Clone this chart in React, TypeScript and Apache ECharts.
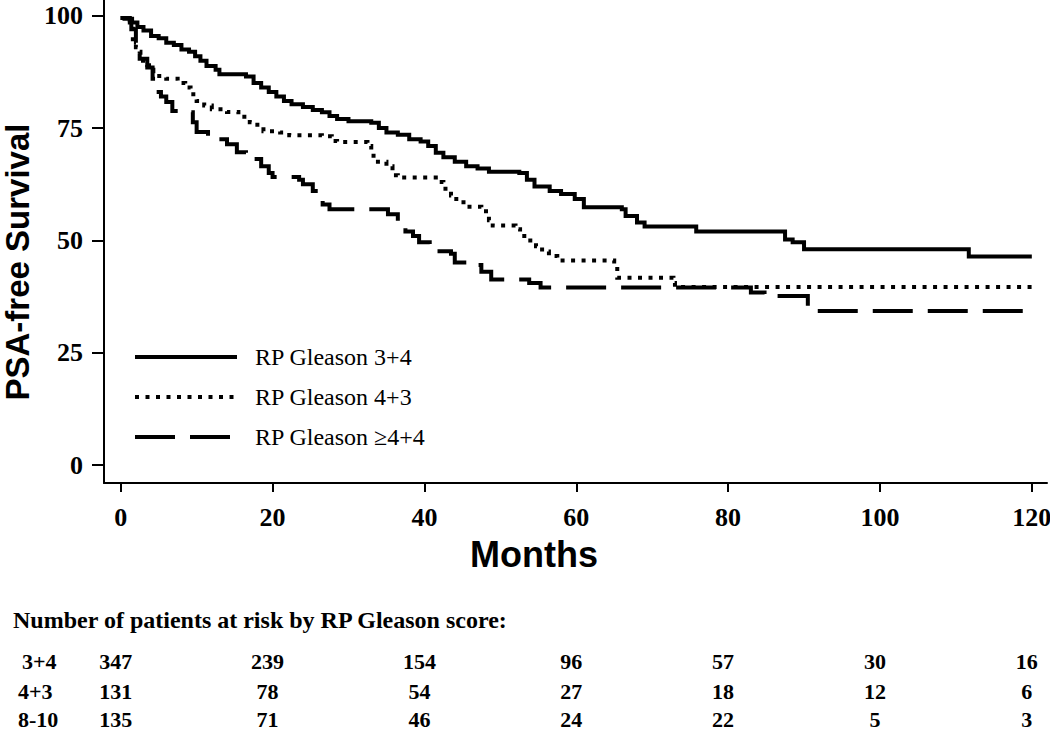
import React, { useEffect, useRef } from "react";
import * as echarts from "echarts";

// ---- Data ----
const monthTicks = [0, 20, 40, 60, 80, 100, 120];
const survivalTicks = [0, 25, 50, 75, 100];

const seriesNames = ["RP Gleason 3+4", "RP Gleason 4+3", "RP Gleason \u22654+4"];

const gleason34: [number, number][] = [
  [0, 99.5], [0.5, 99.3], [1.5, 98.5], [2.2, 97.5], [3, 96.7], [4, 95.5], [5, 95], [6, 94], [7, 93.5],
  [8, 92.5], [9, 92], [9.8, 91], [10.5, 90], [11.3, 88.8], [12.5, 88], [13, 87], [16.5, 86.5],
  [17.5, 85], [18.5, 84], [19.5, 83], [20.5, 82], [21.5, 81], [22.5, 80.3], [24, 79.7], [25.3, 79],
  [26.5, 78.5], [27.5, 77.7], [28.5, 77], [30, 76.5], [33, 76.2], [34, 75], [35, 74], [36.5, 73.5],
  [38, 72.5], [39.5, 72], [40.5, 71], [41.5, 69.5], [42.5, 68.5], [44, 67.5], [45.5, 66.5], [47, 66],
  [48.5, 65.3], [52.5, 65], [53.5, 63.5], [54.5, 62], [56.5, 61], [58, 60.3], [59.8, 59.2], [61, 57.4],
  [66, 56.9], [66.5, 55.4], [68, 54], [69, 53.1], [75.8, 52], [87.5, 50.2], [88.5, 49.6], [90, 48],
  [111.7, 46.4], [120, 46.4],
];

const gleason43: [number, number][] = [
  [0, 99.5], [1.2, 99], [1.4, 98], [1.6, 94], [2, 93], [2.5, 92], [2.6, 90], [3.5, 89], [4, 88],
  [4.3, 86.6], [6, 86], [7.5, 85], [8.5, 84], [9.2, 82.5], [10, 81], [11, 80], [12, 79.2], [14, 78.6],
  [15.5, 77.5], [17, 76.3], [18, 75.2], [18.8, 74.3], [21, 74], [22.2, 73.4], [26.5, 73.2],
  [27.8, 72.1], [28.5, 71.9], [32.5, 71], [33, 69.5], [33.3, 67.5], [35, 66.5], [35.8, 64.5],
  [36.5, 64], [41.5, 63], [42.5, 61.5], [43.5, 60], [44.2, 58.5], [45.5, 57.5], [47.5, 56.5],
  [48.5, 54.5], [49, 53.3], [52, 52.5], [52.6, 51], [53.5, 50], [54.7, 48.7], [55.5, 47.5],
  [56.4, 46.5], [57.5, 45.5], [65, 45.3], [65.4, 41.7], [72.8, 40.5], [73, 39.6], [120, 39.6],
];

const gleason44: [number, number][] = [
  [0, 99.5], [1.2, 98.5], [1.4, 97], [2, 94], [2.5, 90.4], [3.5, 88.5], [4.2, 86], [5, 83], [5.3, 82],
  [6, 80.8], [6.8, 78.8], [9, 78.5], [9.5, 76.3], [10, 74.1], [11.5, 72.5], [14, 71.4], [15.3, 69.6],
  [16.5, 68.1], [18.5, 66.5], [19.5, 65], [20, 64.1], [23.5, 63.5], [24, 62.5], [25.3, 61], [26, 59.5],
  [26.6, 58], [27.5, 56.9], [35.2, 55.8], [36.5, 54], [37.5, 52], [38.5, 51], [39.3, 49.6],
  [40.7, 47.6], [43.5, 47], [44, 45.1], [46.3, 44.5], [47.5, 43], [48.8, 41.3], [53.8, 40.5],
  [55.3, 39.5], [83, 38.4], [84.8, 37.6], [90.5, 34.3], [120, 34.3],
];

const riskTitle = "Number of patients at risk by RP Gleason score:";
const riskGroups = ["3+4", "4+3", "8-10"];
const riskMonths = [0, 20, 40, 60, 80, 100, 120];
const risk34 = [347, 239, 154, 96, 57, 30, 16];
const risk43 = [131, 78, 54, 27, 18, 12, 6];
const risk810 = [135, 71, 46, 24, 22, 5, 3];

// ---- Styles ----
const SERIF = "'Liberation Serif', 'Times New Roman', serif";
const SANS = "'Liberation Sans', Arial, sans-serif";
const dashes: (number[] | "solid")[] = ["solid", [4, 6.5], [40, 15]];

export default function App() {
  const ref = useRef<HTMLDivElement>(null);

  useEffect(() => {
    if (!ref.current) return;
    const chart = echarts.init(ref.current, undefined, { renderer: "svg" });
    const seriesData = [gleason34, gleason43, gleason44];

    chart.setOption({
      animation: false,
      backgroundColor: "#ffffff",
      grid: {
        left: 104,
        right: 3,
        top: 0,
        bottom: 249,
        containLabel: false,
        outerBoundsMode: "none",
      },
      xAxis: {
        type: "value",
        min: -2.2,
        max: 122,
        axisLine: { show: true, onZero: false, lineStyle: { color: "#000", width: 2 } },
        axisTick: { show: true, length: 9, customValues: monthTicks, lineStyle: { color: "#000", width: 2 } },
        axisLabel: {
          customValues: monthTicks,
          margin: 21,
          color: "#000",
          fontFamily: SERIF,
          fontWeight: "bold",
          fontSize: 26,
        },
        splitLine: { show: false },
      },
      yAxis: {
        type: "value",
        min: -4,
        max: 103.5,
        axisLine: { show: true, onZero: false, lineStyle: { color: "#000", width: 2 } },
        axisTick: { show: true, length: 12, customValues: survivalTicks, lineStyle: { color: "#000", width: 2 } },
        axisLabel: {
          customValues: survivalTicks,
          margin: 21,
          color: "#000",
          fontFamily: SERIF,
          fontWeight: "bold",
          fontSize: 26,
        },
        splitLine: { show: false },
      },
      series: seriesData.map((d, i) => ({
        name: seriesNames[i],
        type: "line",
        step: "end",
        data: d,
        symbol: "none",
        showSymbol: false,
        lineStyle: { color: "#000", width: 4, type: dashes[i], cap: "butt", join: "miter" },
      })),
    });

    const px = (m: number) => chart.convertToPixel({ xAxisIndex: 0 }, m) as number;
    const riskRows = [risk34, risk43, risk810];
    const rowY = [661, 691, 719];
    const legendY = [357, 397, 437];

    const graphics: any[] = [];
    // y-axis title
    graphics.push({
      type: "text",
      x: 17,
      y: 262,
      rotation: Math.PI / 2,
      style: {
        text: "PSA-free Survival",
        font: `bold 33px ${SANS}`,
        lineHeight: 30,
        fill: "#000",
        align: "center",
        verticalAlign: "middle",
      },
    });
    // x-axis title
    graphics.push({
      type: "text",
      x: 534,
      y: 554,
      style: {
        text: "Months",
        font: `bold 36px ${SANS}`,
        fill: "#000",
        align: "center",
        verticalAlign: "middle",
      },
    });
    // legend
    seriesNames.forEach((name, i) => {
      graphics.push({
        type: "line",
        shape: { x1: 135, y1: legendY[i], x2: 237, y2: legendY[i] },
        style: {
          stroke: "#000",
          lineWidth: 4,
          lineDash: dashes[i] === "solid" ? null : dashes[i],
          lineCap: "butt",
        },
      });
      graphics.push({
        type: "text",
        x: 255,
        y: legendY[i],
        style: {
          text: name,
          font: `24px ${SERIF}`,
          fill: "#000",
          align: "left",
          verticalAlign: "middle",
        },
      });
    });
    // at-risk table
    graphics.push({
      type: "text",
      x: 13,
      y: 620,
      style: {
        text: riskTitle,
        font: `bold 24px ${SERIF}`,
        fill: "#000",
        align: "left",
        verticalAlign: "middle",
      },
    });
    riskGroups.forEach((g, r) => {
      graphics.push({
        type: "text",
        x: r === 0 ? 22 : 18,
        y: rowY[r],
        style: {
          text: g,
          font: `bold 22px ${SERIF}`,
          fill: "#000",
          align: "left",
          verticalAlign: "middle",
        },
      });
      riskRows[r].forEach((v, c) => {
        graphics.push({
          type: "text",
          x: px(riskMonths[c]) - 5,
          y: rowY[r],
          style: {
            text: String(v),
            font: `bold 22px ${SERIF}`,
            fill: "#000",
            align: "center",
            verticalAlign: "middle",
          },
        });
      });
    });

    chart.setOption({ graphic: graphics });

    return () => chart.dispose();
  }, []);

  return (
    <div
      ref={ref}
      style={{ position: "fixed", left: 0, top: 0, width: 1050, height: 732, background: "#fff" }}
    />
  );
}
